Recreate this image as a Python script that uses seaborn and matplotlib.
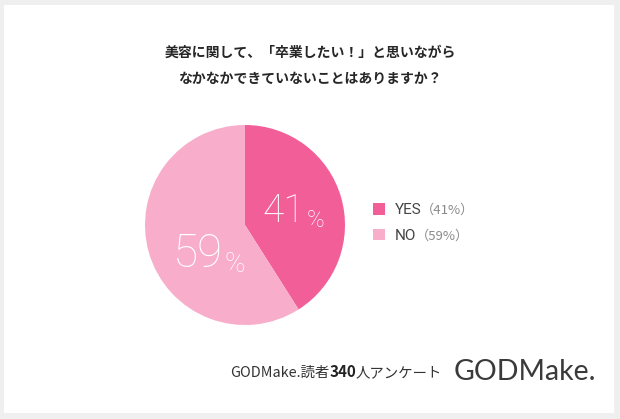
import matplotlib
matplotlib.use("Agg")
import matplotlib.pyplot as plt
import seaborn as sns
from matplotlib.patches import Rectangle

# データ
labels = ["YES", "NO"]
values = [41, 59]
colors = ["#f25f98", "#f8adca"]
title = "美容に関して、「卒業したい！」と思いながら\nなかなかできていないことはありますか？"
footer_parts = ["GODMake.読者", "340", "人アンケート"]
logo = "GODMake."

sns.set_theme(style="white")
plt.rcParams['font.family'] = ['Noto Sans CJK JP', 'DejaVu Sans']

W, H = 620, 419
fig = plt.figure(figsize=(W / 100, H / 100), dpi=100)
fig.patch.set_facecolor("#efefef")
fig.patches.append(Rectangle((4 / W, 1 - 413 / H), 610 / W, 408 / H,
                             transform=fig.transFigure, facecolor="white",
                             edgecolor="none", zorder=-10))

# 円グラフ
ax = fig.add_axes([145 / W, 1 - 325 / H, 200 / W, 200 / H])
ax.patch.set_alpha(0)
wedges, _ = ax.pie(values, colors=colors, startangle=90, counterclock=False,
                   radius=1, wedgeprops=dict(linewidth=0))
ax.set_xlim(-1, 1)
ax.set_ylim(-1, 1)
ax.set_aspect("equal")
ax.axis("off")

# パーセント表示（数字＋小さい%）
pct_pos = {"YES": (0.18, 0.03, 28, 17), "NO": (-0.72, -0.42, 33, 20)}
for lab, v in zip(labels, values):
    x, y, fs, fs2 = pct_pos[lab]
    t = ax.text(x, y, str(v), color="white", fontsize=fs, family="Roboto",
                fontweight="light", ha="left", va="baseline")
    ax.annotate("%", xy=(1, 0), xycoords=t, xytext=(1, -1.5),
                textcoords="offset points", color="white", fontsize=fs2,
                family="Roboto", fontweight="light", ha="left", va="bottom")

# タイトル
fig.text(0.5, 1 - 66 / H, title, ha="center", va="center", fontsize=10,
         fontweight="bold", color="#262626", linespacing=2.15)

# 凡例
leg = fig.legend(wedges, labels, loc="center left",
                 bbox_to_anchor=(373 / W, 1 - 223 / H), frameon=False,
                 borderpad=0, borderaxespad=0, handlelength=0.8,
                 handleheight=0.8, handletextpad=0.6, labelspacing=0.75,
                 prop=dict(family="Roboto", size=11))
fig.canvas.draw()
for txt, v in zip(leg.get_texts(), values):
    txt.set_color("#444444")
    bb = txt.get_window_extent()
    fig.text(bb.x1 / W, (bb.y0 + bb.y1) / 2 / H, f"（{v}%）",
             color="#8a8a8a", fontsize=9.5, ha="left", va="center")

# フッター
t1 = fig.text(230 / W, 1 - 373 / H, footer_parts[0], ha="left",
              va="center", fontsize=10.4, color="#333333")
b = ax.annotate(footer_parts[1], xy=(1, 0), xycoords=t1, ha="left",
                va="bottom", fontsize=10.9, fontweight="bold", color="#222222")
ax.annotate(footer_parts[2], xy=(1, 0), xycoords=b, ha="left", va="bottom",
            fontsize=10.4, color="#333333")
fig.text(596 / W, 1 - 372 / H, logo, ha="right", va="center", fontsize=20.5,
         family="Lato", color="#3a3a3a")

fig.savefig("out.png", dpi=100, facecolor=fig.get_facecolor())
